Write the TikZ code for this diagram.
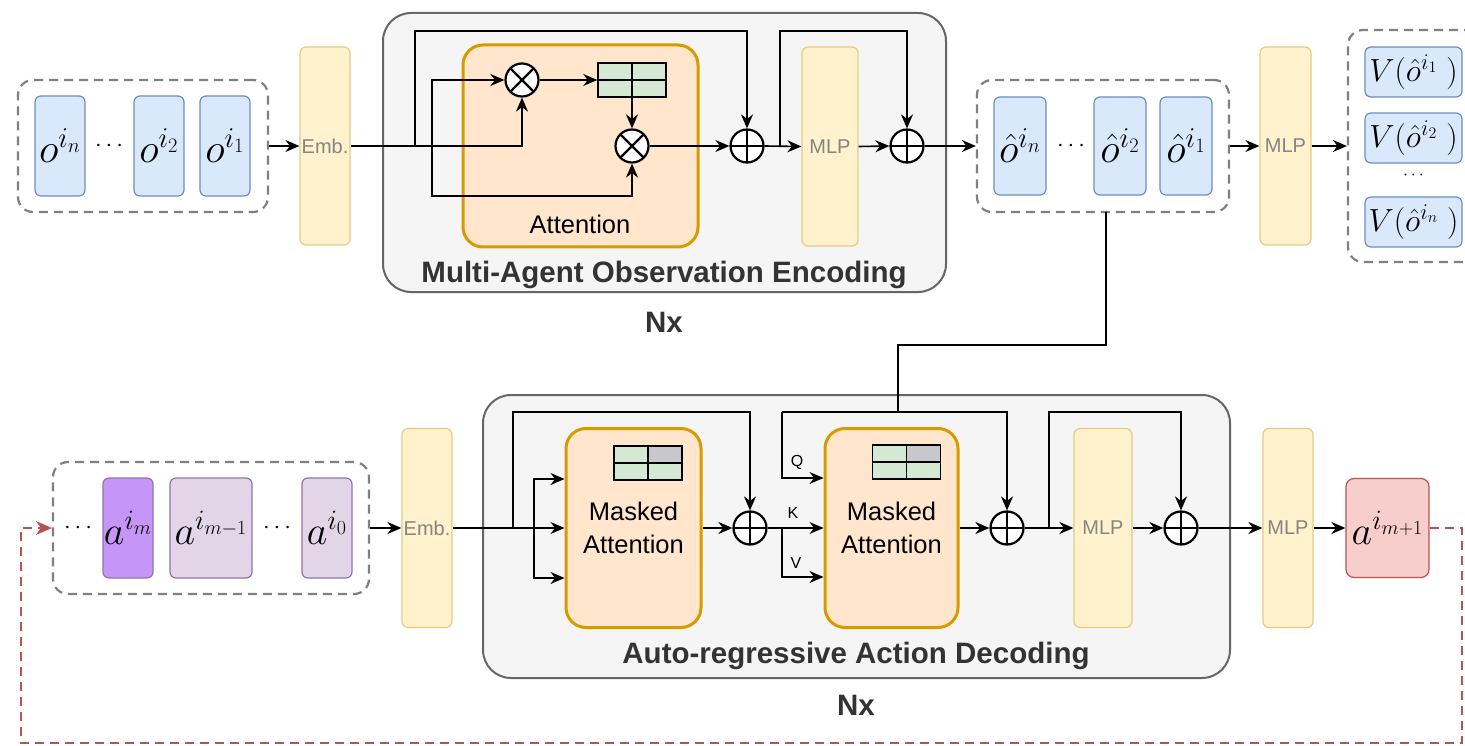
\RequirePackage{fix-cm}
\documentclass[tikz,border=0pt]{standalone}
\usepackage[no-math]{fontspec}
\setmainfont{Liberation Sans}
\usetikzlibrary{arrows.meta,calc}
\definecolor{bluefill}{HTML}{DAE8FC}
\definecolor{bluestroke}{HTML}{6C8EBF}
\definecolor{yfill}{HTML}{FFF2CC}
\definecolor{ystroke}{HTML}{E3CD85}
\definecolor{ytext}{HTML}{858585}
\definecolor{blkfill}{HTML}{F5F5F5}
\definecolor{blkstroke}{HTML}{666666}
\definecolor{attfill}{HTML}{FFE6CC}
\definecolor{attstroke}{HTML}{D79B00}
\definecolor{matgreen}{HTML}{D5E8D4}
\definecolor{matgray}{HTML}{C8C8CC}
\definecolor{pfill}{HTML}{C595F7}
\definecolor{lpfill}{HTML}{E1D5E7}
\definecolor{pstroke}{HTML}{9673A6}
\definecolor{rfill}{HTML}{F8CECC}
\definecolor{rstroke}{HTML}{B85450}
\definecolor{grpgray}{HTML}{808080}
\definecolor{titlec}{HTML}{333333}
\tikzset{
  obox/.style={draw=bluestroke, fill=bluefill, line width=1.2pt, rounded corners=6pt, minimum width=50pt, minimum height=100pt, inner sep=0pt, font=\fontsize{41}{43}\selectfont},
  vbox/.style={draw=bluestroke, fill=bluefill, line width=1.2pt, rounded corners=6pt, minimum width=97pt, minimum height=50pt, inner sep=0pt, font=\fontsize{32}{34}\selectfont},
  abox/.style={draw=pstroke, fill=lpfill, line width=1.2pt, rounded corners=6pt, minimum width=50pt, minimum height=100pt, inner sep=0pt, font=\fontsize{40}{42}\selectfont},
  ybox/.style={draw=ystroke, fill=yfill, line width=1.2pt, rounded corners=6pt, inner sep=0pt, text=ytext, font=\fontsize{20}{22}\selectfont},
  grp/.style={draw=grpgray, dash pattern=on 9pt off 6pt, line width=2.2pt, rounded corners=15pt, inner sep=0pt},
  blk/.style={draw=blkstroke, fill=blkfill, line width=2pt, rounded corners=28pt, inner sep=0pt},
  attn/.style={draw=attstroke, fill=attfill, line width=3pt, rounded corners=20pt, inner sep=0pt, align=center, font=\fontsize{25.5}{33}\selectfont},
  opplus/.style={circle, draw, fill=white, line width=2.2pt, minimum size=33pt, inner sep=0pt,
    path picture={\draw[line width=2.2pt] (path picture bounding box.north) -- (path picture bounding box.south) (path picture bounding box.west) -- (path picture bounding box.east);}},
  optimes/.style={circle, draw, fill=white, line width=2.2pt, minimum size=33pt, inner sep=0pt,
    path picture={\draw[line width=2.2pt] (path picture bounding box.north west) -- (path picture bounding box.south east) (path picture bounding box.south west) -- (path picture bounding box.north east);}},
  mat/.style={draw, line width=1.5pt, fill=matgreen, minimum width=68pt, minimum height=34pt, inner sep=0pt,
    path picture={\draw[line width=1.5pt] (path picture bounding box.north) -- (path picture bounding box.south) (path picture bounding box.west) -- (path picture bounding box.east);}},
  maskmat/.style={draw, line width=1.5pt, fill=matgreen, minimum width=68pt, minimum height=34pt, inner sep=0pt,
    path picture={\fill[matgray] (path picture bounding box.north) rectangle (path picture bounding box.east);
      \draw[line width=1.5pt] (path picture bounding box.north) -- (path picture bounding box.south) (path picture bounding box.west) -- (path picture bounding box.east);}},
  conn/.style={line width=1.6pt, -{Stealth[length=14pt,width=12pt,inset=4.5pt]}},
  wire/.style={line width=1.6pt},
  redconn/.style={draw=rstroke, line width=2.2pt, dash pattern=on 9pt off 6pt, -{Stealth[length=16pt,width=14pt,inset=5pt,fill=rstroke]}},
  title/.style={font=\fontsize{29.5}{31}\selectfont\bfseries, text=titlec},
  dotsl/.style={font=\fontsize{24}{26}\selectfont},
  qkv/.style={font=\fontsize{16}{18}\selectfont}
}
\begin{document}
\begin{tikzpicture}[x=1pt,y=-1pt]
\fill[white] (0,0) rectangle (1465,746);
\useasboundingbox (0,0) rectangle (1465,746);

% ---------------- top row ----------------
\node[grp, minimum width=250pt, minimum height=132pt] (og) at (143,146) {};
\node[obox] (on) at (60,146) {$o^{i_n}$};
\node[dotsl] (od) at (109,146) {$\cdots$};
\node[obox] (o2) at (159,146) {$o^{i_2}$};
\node[obox] (o1) at (225,146) {$o^{i_1}$};
\node[ybox, minimum width=50pt, minimum height=198pt] (emb1) at (325,146) {Emb.};

\node[blk, minimum width=563pt, minimum height=279pt] (enc) at (664.5,152.5) {};
\node[attn, minimum width=235pt, minimum height=202pt] (att) at (580.5,146) {};
\node[font=\fontsize{25.5}{27}\selectfont] (attl) at (580,224) {Attention};
\node[optimes] (x1) at (522,80) {};
\node[optimes] (x2) at (632,146) {};
\node[mat] (m1) at (632,80) {};
\node[opplus] (p1) at (747,146) {};
\node[ybox, minimum width=56pt, minimum height=199pt] (mlp1) at (830,146.5) {MLP};
\node[opplus] (p2) at (907,146) {};
\node[title] (enct) at (664,275) {Multi-Agent Observation Encoding};
\node[title] (nx1) at (664,322) {Nx};

\node[grp, minimum width=252pt, minimum height=132pt] (hg) at (1103,146) {};
\node[obox, minimum width=52pt, minimum height=98pt] (hn) at (1020,146) {$\hat{o}^{i_n}$};
\node[dotsl] (hd) at (1071,146) {$\cdots$};
\node[obox, minimum width=52pt, minimum height=98pt] (h2) at (1120,146) {$\hat{o}^{i_2}$};
\node[obox, minimum width=52pt, minimum height=98pt] (h1) at (1186,146) {$\hat{o}^{i_1}$};
\node[ybox, minimum width=51pt, minimum height=198pt] (mlpv) at (1285.5,146) {MLP};
\node[grp, minimum width=140pt, minimum height=232pt] (vg) at (1418,146) {};
\node[vbox] (v1) at (1413.5,72) {$V(\hat{o}^{i_1}\;)$};
\node[vbox] (v2) at (1413.5,138) {$V(\hat{o}^{i_2}\;)$};
\node[font=\fontsize{18}{20}\selectfont] (vd) at (1413.5,176) {$\cdots$};
\node[vbox] (vn) at (1413.5,222) {$V(\hat{o}^{i_n}\;)$};

% top connectors
\coordinate (s1) at (415,146);
\coordinate (t1) at (747,31);
\coordinate (br1) at (432,146);
\coordinate (bb1) at (632,196);
\coordinate (s2) at (780,146);
\coordinate (t2) at (907,31);
\draw[conn] (og.east) -- (emb1.west);
\draw[conn] (emb1.east) -| (x1.south);
\draw[conn] (s1) |- (t1) -- (p1.north);
\draw[conn] (br1) |- (x1.west);
\draw[conn] (br1) |- (bb1) -- (x2.south);
\draw[conn] (x1.east) -- (m1.west);
\draw[conn] (m1.south) -- (x2.north);
\draw[conn] (x2.east) -- (p1.west);
\draw[conn] (p1.east) -- (mlp1.west);
\draw[conn] (s2) |- (t2) -- (p2.north);
\draw[conn] (mlp1.east) -- (p2.west);
\draw[conn] (p2.east) -- (hg.west);
\draw[conn] (hg.east) -- (mlpv.west);
\draw[conn] (mlpv.east) -- (vg.west);

% ---------------- bottom row ----------------
\node[grp, minimum width=316pt, minimum height=132pt] (ag) at (211,528) {};
\node[dotsl] (ad1) at (78,528) {$\cdots$};
\node[abox, fill=pfill] (am) at (128,528) {$a^{i_m}$};
\node[abox, minimum width=82pt] (am1) at (211,528) {$a^{i_{m-1}}$};
\node[dotsl] (ad2) at (277,528) {$\cdots$};
\node[abox] (a0) at (327,528) {$a^{i_0}$};
\node[ybox, minimum width=50pt, minimum height=199pt] (emb2) at (427,528) {Emb.};

\node[blk, minimum width=747pt, minimum height=283pt] (dec) at (856.5,536.5) {};
\node[attn, minimum width=135pt, minimum height=199pt] (ma1) at (633.5,528) {Masked\\Attention};
\node[maskmat] (mm1) at (648,463) {};
\node[opplus] (p3) at (750,528) {};
\node[attn, minimum width=133pt, minimum height=199pt] (ma2) at (891.5,528) {Masked\\Attention};
\node[maskmat] (mm2) at (906.5,462) {};
\node[opplus] (p4) at (1007,528) {};
\node[ybox, minimum width=58pt, minimum height=199pt] (mlp3) at (1103,528) {MLP};
\node[opplus] (p5) at (1181,528) {};
\node[ybox, minimum width=50pt, minimum height=199pt] (mlp4) at (1288,528) {MLP};
\node[draw=rstroke, fill=rfill, line width=1.2pt, rounded corners=8pt, minimum width=83pt, minimum height=99pt, inner sep=0pt, font=\fontsize{40}{42}\selectfont] (anext) at (1387.5,528) {$a^{i_{m+1}}$};
\node[title] (dect) at (856,656) {Auto-regressive Action Decoding};
\node[title] (nx2) at (856,705) {Nx};

\node[qkv] (ql) at (797,462) {Q};
\node[qkv] (kl) at (793,513) {K};
\node[qkv] (vl) at (796,563) {V};

% bottom connectors
\coordinate (s3) at (513,528);
\coordinate (t3) at (750,412);
\coordinate (br3) at (534,528);
\coordinate (br4) at (782,528);
\coordinate (q1) at (782,412);
\coordinate (t4) at (1007,412);
\coordinate (s5) at (1049,528);
\coordinate (t5) at (1181,412);
\coordinate (hgb) at (1106,212);
\coordinate (l2) at (898,345);
\coordinate (q0) at (898,412);
\coordinate (r2) at (1462,743);
\coordinate (r3) at (21,743);

\draw[conn] (ag.east) -- (emb2.west);
\draw[conn] (emb2.east) -- (ma1.west);
\draw[conn] (s3) |- (t3) -- (p3.north);
\draw[conn] (br3) |- ($(ma1.west)+(0,-49)$);
\draw[conn] (br3) |- ($(ma1.west)+(0,50)$);
\draw[conn] (ma1.east) -- (p3.west);
\draw[conn] (p3.east) -- (ma2.west);
\draw[conn] (br4) |- ($(ma2.west)+(0,49)$);
\draw[conn] (q1) |- ($(ma2.west)+(0,-50)$);
\draw[conn] (q1) -- (t4) -- (p4.north);
\draw[wire] (hgb) |- (l2) -- (q0);
\draw[conn] (ma2.east) -- (p4.west);
\draw[conn] (p4.east) -- (mlp3.west);
\draw[conn] (s5) |- (t5) -- (p5.north);
\draw[conn] (mlp3.east) -- (p5.west);
\draw[conn] (p5.east) -- (mlp4.west);
\draw[conn] (mlp4.east) -- (anext.west);
\draw[redconn] (anext.east) -| (r2) -- (r3) |- (ag.west);
\end{tikzpicture}
\end{document}
